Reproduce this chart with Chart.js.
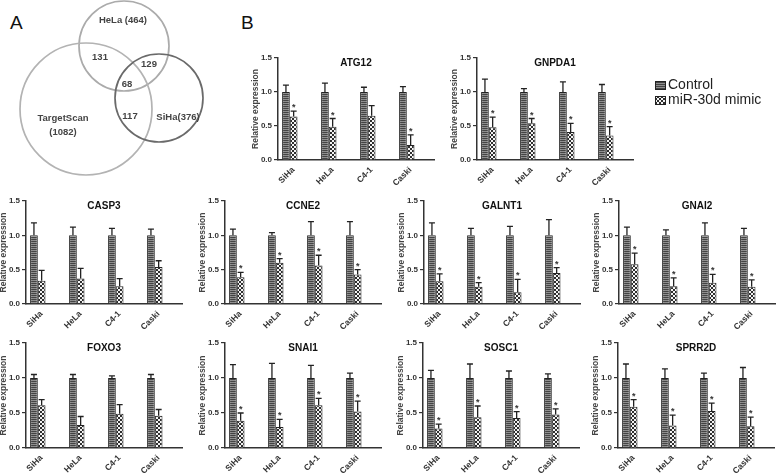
<!DOCTYPE html>
<html>
<head>
<meta charset="utf-8">
<script src="https://cdn.jsdelivr.net/npm/chart.js@4.4.0/dist/chart.umd.min.js"></script>
<style>
  body { margin: 0; background: #fff; width: 778px; height: 473px; position: relative; overflow: hidden;
         font-family: "Liberation Sans", Arial, sans-serif; }
  canvas { position: absolute; }
  .letter { position: absolute; font-size: 19px; color: #111; line-height: 1; }
</style>
</head>
<body>
<div class="letter" style="left:10px;top:13px">A</div>
<div class="letter" style="left:241px;top:13px">B</div>

<script>
// ---- data ----
const cellLines = ['SiHa', 'HeLa', 'C4-1', 'Caski'];
const genes = ['ATG12', 'GNPDA1', 'CASP3', 'CCNE2', 'GALNT1', 'GNAI2', 'FOXO3', 'SNAI1', 'SOSC1', 'SPRR2D'];
const seriesNames = ['Control', 'miR-30d mimic'];
const controlMean = [1.0, 1.0, 1.0, 1.0];
const controlErr = [
  [0.10, 0.13, 0.07, 0.08], // ATG12
  [0.19, 0.05, 0.15, 0.11], // GNPDA1
  [0.18, 0.12, 0.10, 0.09], // CASP3
  [0.09, 0.04, 0.20, 0.20], // CCNE2
  [0.18, 0.10, 0.13, 0.23], // GALNT1
  [0.12, 0.08, 0.18, 0.10], // GNAI2
  [0.05, 0.05, 0.03, 0.05], // FOXO3
  [0.19, 0.21, 0.18, 0.07], // SNAI1
  [0.11, 0.20, 0.10, 0.06], // SOSC1
  [0.20, 0.13, 0.07, 0.15]  // SPRR2D
];
const mimicMean = [
  [0.64, 0.49, 0.65, 0.22],
  [0.48, 0.54, 0.41, 0.36],
  [0.34, 0.37, 0.26, 0.54],
  [0.39, 0.60, 0.56, 0.43],
  [0.33, 0.25, 0.17, 0.45],
  [0.58, 0.26, 0.31, 0.25],
  [0.61, 0.33, 0.49, 0.46],
  [0.39, 0.30, 0.61, 0.52],
  [0.28, 0.44, 0.43, 0.48],
  [0.59, 0.32, 0.53, 0.31]
];
const mimicErr = [
  [0.08, 0.12, 0.15, 0.15],
  [0.15, 0.07, 0.13, 0.13],
  [0.15, 0.15, 0.11, 0.09],
  [0.07, 0.06, 0.15, 0.07],
  [0.11, 0.06, 0.19, 0.08],
  [0.16, 0.12, 0.12, 0.10],
  [0.08, 0.12, 0.13, 0.09],
  [0.11, 0.11, 0.10, 0.15],
  [0.06, 0.16, 0.09, 0.08],
  [0.10, 0.15, 0.11, 0.13]
];
const significant = [
  [1, 1, 0, 1], [1, 1, 1, 1], [0, 0, 0, 0], [1, 1, 1, 1], [1, 1, 1, 1],
  [1, 1, 1, 1], [0, 0, 0, 0], [1, 1, 1, 1], [1, 1, 1, 1], [1, 1, 1, 1]
];
const yTicks = [0, 0.5, 1.0, 1.5];

// Venn (A)
const vennNames = ['HeLa', 'TargetScan', 'SiHa'];
const vennX = [124, 86, 159];
const vennY = [46, 109, 98];
const vennR = [45, 66, 44];
const vennLabels = ['HeLa (464)', '131', '129', '68', '117', 'SiHa(376)', 'TargetScan', '(1082)'];
const vennLabelX = [123, 100, 149, 127, 130, 178, 63, 63];
const vennLabelY = [20, 57, 64, 84, 116, 117, 118, 132];

// ---- layout: y-axis x, pixel of 1.5, pixel of 0 ----
const panelPos = [
  [278, 58, 160], [477, 58, 160],
  [26, 201, 304], [225, 201, 304], [424, 201, 304], [619, 201, 304],
  [26, 343, 448], [225, 343, 448], [423, 343, 448], [618, 343, 448]
];
const FONT = '"Liberation Sans", Arial, sans-serif';

function addCanvas(left, top, w, h) {
  const c = document.createElement('canvas');
  c.width = w; c.height = h;
  c.style.left = left + 'px'; c.style.top = top + 'px';
  c.style.width = w + 'px'; c.style.height = h + 'px';
  document.body.appendChild(c);
  return c;
}

function stripePattern(ctx) {
  const c = document.createElement('canvas'); c.width = 4; c.height = 2;
  const g = c.getContext('2d');
  g.fillStyle = '#8e8e8e'; g.fillRect(0, 0, 4, 2);
  g.fillStyle = '#444444'; g.fillRect(0, 0, 4, 1);
  return ctx.createPattern(c, 'repeat');
}
function checkPattern(ctx) {
  const c = document.createElement('canvas'); c.width = 4; c.height = 4;
  const g = c.getContext('2d');
  g.fillStyle = '#f4f4f4'; g.fillRect(0, 0, 4, 4);
  g.fillStyle = '#2e2e2e'; g.fillRect(0, 0, 2, 2); g.fillRect(2, 2, 2, 2);
  return ctx.createPattern(c, 'repeat');
}

// error bars + asterisks
const errorBars = {
  id: 'errorBars',
  afterDatasetsDraw(chart) {
    const ctx = chart.ctx, y = chart.scales.y;
    ctx.save();
    ctx.strokeStyle = '#222'; ctx.lineWidth = 1.3;
    ctx.fillStyle = '#333'; ctx.font = 'bold 9px ' + FONT;
    ctx.textAlign = 'center'; ctx.textBaseline = 'alphabetic';
    [0, 1].forEach(di => {
      const ds = chart.data.datasets[di];
      chart.getDatasetMeta(di).data.forEach((bar, i) => {
        const top = y.getPixelForValue(ds.data[i] + ds.errors[i]);
        ctx.beginPath();
        ctx.moveTo(bar.x, bar.y); ctx.lineTo(bar.x, top);
        ctx.moveTo(bar.x - 3, top); ctx.lineTo(bar.x + 3, top);
        ctx.stroke();
        if (ds.stars && ds.stars[i]) ctx.fillText('*', bar.x, top - 1);
      });
    });
    ctx.restore();
  }
};

const geneTitle = {
  id: 'geneTitle',
  afterDraw(chart, args, opts) {
    const ctx = chart.ctx, a = chart.chartArea;
    ctx.save();
    ctx.fillStyle = '#111'; ctx.font = 'bold 10px ' + FONT;
    ctx.textAlign = 'center'; ctx.textBaseline = 'middle';
    ctx.fillText(opts.text, (a.left + a.right) / 2, a.top + 5);
    ctx.restore();
  }
};

const sideLegend = {
  id: 'sideLegend',
  afterDraw(chart, args, opts) {
    if (!opts.show) return;
    const ctx = chart.ctx, a = chart.chartArea;
    const x = a.right + 22;
    ctx.save();
    ctx.font = '14px ' + FONT; ctx.textBaseline = 'middle';
    [0, 1].forEach(i => {
      const yy = 85 - chart.canvas.offsetTop + i * 15;
      ctx.fillStyle = chart.data.datasets[i].backgroundColor;
      ctx.fillRect(x, yy - 4, 10, 8);
      ctx.strokeStyle = '#222'; ctx.lineWidth = 1;
      ctx.strokeRect(x + 0.5, yy - 3.5, 10, 8);
      ctx.fillStyle = '#222';
      ctx.fillText(seriesNames[i], x + 13, yy);
    });
    ctx.restore();
  }
};

genes.forEach((gene, g) => {
  const [ax, y15, y0] = panelPos[g];
  const padTop = 10, axisW = 48, axisH = 30, plotW = 156;
  const w = g === 1 ? 778 - (ax - axisW) : axisW + plotW + 8;
  const h = padTop + (y0 - y15) + axisH;
  const canvas = addCanvas(ax - axisW, y15 - padTop, w, h);
  const ctx = canvas.getContext('2d');
  new Chart(canvas, {
    type: 'bar',
    data: {
      labels: cellLines,
      datasets: [
        { label: seriesNames[0], data: controlMean, errors: controlErr[g],
          backgroundColor: stripePattern(ctx), borderColor: '#222', borderWidth: 1 },
        { label: seriesNames[1], data: mimicMean[g], errors: mimicErr[g], stars: significant[g],
          backgroundColor: checkPattern(ctx), borderColor: '#222', borderWidth: 1 },
        { data: [null, null, null, null] },
        { data: [null, null, null, null] }
      ]
    },
    options: {
      responsive: false, animation: false, events: [],
      layout: { padding: { top: padTop, right: w - axisW - plotW, left: 0, bottom: 0 } },
      datasets: { bar: { categoryPercentage: 0.79, barPercentage: 1.0 } },
      plugins: {
        legend: { display: false }, tooltip: { enabled: false },
        geneTitle: { text: gene },
        sideLegend: { show: g === 1 }
      },
      scales: {
        x: {
          grid: { display: false },
          border: { color: '#333', width: 1.5 },
          ticks: { color: '#333', font: { family: FONT, size: 8.5, weight: 'bold' },
                   minRotation: 45, maxRotation: 45, padding: -3, labelOffset: -4 },
          afterFit: s => { s.height = axisH; }
        },
        y: {
          min: 0, max: 1.5,
          afterBuildTicks: s => { s.ticks = yTicks.map(v => ({ value: v })); },
          grid: { drawOnChartArea: false, drawTicks: true, tickLength: 4, color: '#333', lineWidth: 1.2 },
          border: { color: '#333', width: 1.5 },
          ticks: { color: '#333', font: { family: FONT, size: 8, weight: 'bold' }, padding: 2,
                   callback: v => Number(v).toFixed(1) },
          title: { display: true, text: 'Relative expression', color: '#444',
                   font: { family: FONT, size: 8.5, weight: 'bold' }, padding: { top: 21, bottom: 0 } },
          afterFit: s => { s.width = axisW; }
        }
      }
    },
    plugins: [errorBars, geneTitle, sideLegend]
  });
});

// ---- Venn diagram ----
// bubble charts reserve their largest radius as padding, so the canvas is enlarged by PAD on every side
const PAD = 70;
const vennText = {
  id: 'vennText',
  afterDraw(chart) {
    const ctx = chart.ctx, sx = chart.scales.x, sy = chart.scales.y;
    ctx.save();
    ctx.fillStyle = '#444'; ctx.font = 'bold 9.5px ' + FONT;
    ctx.textAlign = 'center'; ctx.textBaseline = 'middle';
    vennLabels.forEach((t, i) => {
      ctx.fillText(t, sx.getPixelForValue(vennLabelX[i]), sy.getPixelForValue(vennLabelY[i]));
    });
    ctx.restore();
  }
};
const vennCanvas = addCanvas(-PAD, -PAD, 230 + 2 * PAD, 180 + 2 * PAD);
new Chart(vennCanvas, {
  type: 'bubble',
  data: {
    datasets: [{
      label: vennNames.join(' / '),
      data: vennX.map((x, i) => ({ x: x, y: vennY[i], r: vennR[i] })),
      backgroundColor: 'rgba(0,0,0,0)',
      borderColor: ['#ababab', '#b3b3b3', '#6a6a6a'],
      borderWidth: 1.7,
      clip: false
    }]
  },
  options: {
    responsive: false, animation: false, events: [],
    layout: { padding: PAD },
    plugins: { legend: { display: false }, tooltip: { enabled: false } },
    scales: {
      x: { type: 'linear', display: false, min: 0, max: 230 },
      y: { type: 'linear', display: false, min: 0, max: 180, reverse: true }
    }
  },
  plugins: [vennText]
});
</script>
</body>
</html>
